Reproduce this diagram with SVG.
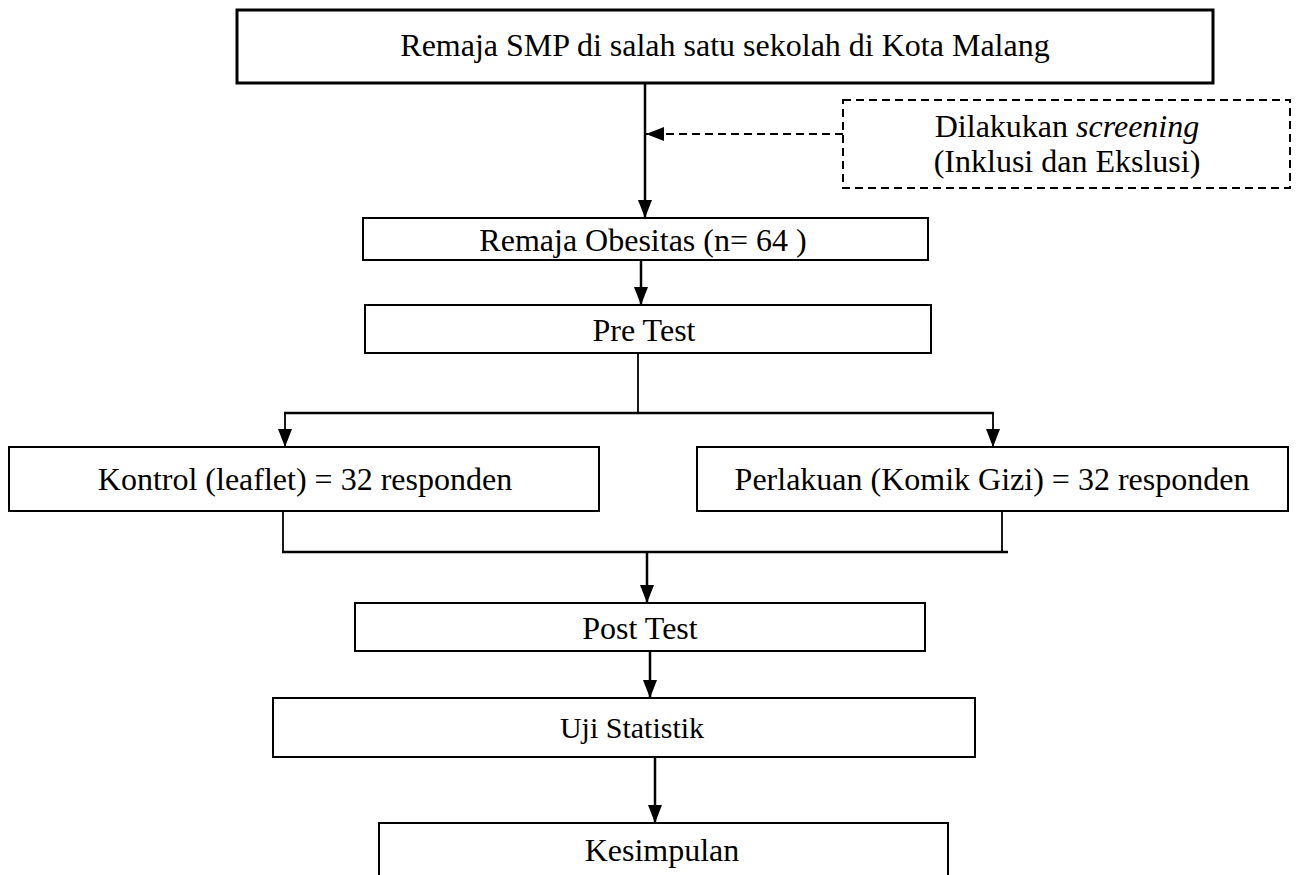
<svg xmlns="http://www.w3.org/2000/svg" width="1298" height="875" viewBox="0 0 1298 875">
<style>
.box{fill:#fff;stroke:#000;stroke-width:2}
.t{font-family:"Liberation Serif","Times New Roman",serif;font-size:32px;fill:#000;text-anchor:middle}
.ln{fill:none;stroke:#000;stroke-width:2.5}
.thin{fill:none;stroke:#000;stroke-width:1.8}
.dash{fill:none;stroke:#000;stroke-width:2;stroke-dasharray:8,5}
</style>
<defs>
<marker id="ah" markerWidth="18" markerHeight="14" refX="18" refY="7" orient="auto" markerUnits="userSpaceOnUse" viewBox="0 0 18 14">
<path d="M0,0 L18,7 L0,14 Z" fill="#000"/>
</marker>
</defs>
<rect width="1298" height="875" fill="#fff"/>
<g id="connectors">
<line class="ln" x1="645" y1="83" x2="645" y2="218" marker-end="url(#ah)"/>
<line class="dash" x1="843" y1="134" x2="646" y2="134" marker-end="url(#ah)"/>
<line class="ln" x1="641" y1="260" x2="641" y2="305" marker-end="url(#ah)"/>
<line class="thin" x1="638" y1="353" x2="638" y2="413"/>
<line class="ln" x1="284" y1="413" x2="994" y2="413"/>
<line class="thin" x1="285" y1="413" x2="285" y2="447" marker-end="url(#ah)"/>
<line class="thin" x1="993" y1="413" x2="993" y2="447" marker-end="url(#ah)"/>
<line class="thin" x1="283" y1="511" x2="283" y2="552"/>
<line class="thin" x1="1002" y1="511" x2="1002" y2="552"/>
<line class="ln" x1="282" y1="552" x2="1008" y2="552"/>
<line class="ln" x1="647" y1="552" x2="647" y2="603" marker-end="url(#ah)"/>
<line class="ln" x1="650" y1="651" x2="650" y2="698" marker-end="url(#ah)"/>
<line class="ln" x1="655" y1="757" x2="655" y2="823" marker-end="url(#ah)"/>
</g>
<g id="n1"><rect class="box" x="237" y="10" width="976" height="73" style="stroke-width:3"/><text class="t" x="725" y="56">Remaja SMP di salah satu sekolah di Kota Malang</text></g>
<g id="screening"><rect class="dash" x="843" y="100" width="447" height="88"/><text class="t" x="1067" y="137">Dilakukan <tspan font-style="italic">screening</tspan></text><text class="t" x="1067" y="172">(Inklusi dan Ekslusi)</text></g>
<g id="n2"><rect class="box" x="363" y="218" width="565" height="42"/><text class="t" x="643" y="251">Remaja Obesitas (n= 64 )</text></g>
<g id="n3"><rect class="box" x="365" y="305" width="566" height="48"/><text class="t" x="644" y="341">Pre Test</text></g>
<g id="n4"><rect class="box" x="9" y="447" width="590" height="64"/><text class="t" x="305" y="490">Kontrol (leaflet) = 32 responden</text></g>
<g id="n5"><rect class="box" x="697" y="447" width="591" height="64"/><text class="t" x="992" y="490">Perlakuan (Komik Gizi) = 32 responden</text></g>
<g id="n6"><rect class="box" x="355" y="603" width="570" height="48"/><text class="t" x="640" y="639">Post Test</text></g>
<g id="n7"><rect class="box" x="273" y="698" width="702" height="59"/><text class="t" x="632" y="738" style="font-size:30px">Uji Statistik</text></g>
<g id="n8"><rect class="box" x="379" y="823" width="569" height="70"/><text class="t" x="662" y="861">Kesimpulan</text></g>
</svg>
